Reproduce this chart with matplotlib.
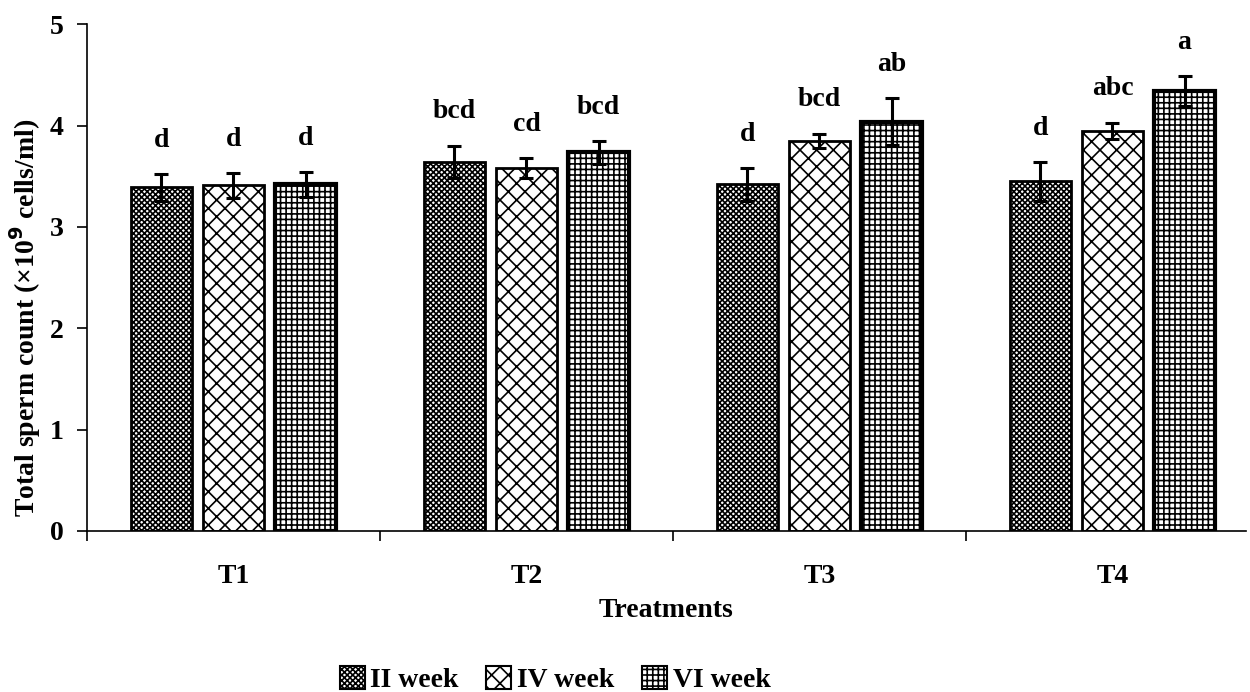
import matplotlib.pyplot as plt
import numpy as np
from matplotlib.patches import Patch

plt.rcParams['font.family'] = ['Liberation Serif', 'DejaVu Serif']
plt.rcParams['font.weight'] = 'bold'
plt.rcParams['hatch.linewidth'] = 1.2

treatments = ['T1', 'T2', 'T3', 'T4']
weeks = ['II week', 'IV week', 'VI week']
week2 = [3.39, 3.64, 3.42, 3.45]
week4 = [3.41, 3.58, 3.85, 3.95]
week6 = [3.42, 3.735, 4.04, 4.34]
err2 = [0.13, 0.16, 0.16, 0.19]
err4 = [0.12, 0.10, 0.07, 0.08]
err6 = [0.12, 0.11, 0.23, 0.145]
letters2 = ['d', 'bcd', 'd', 'd']
letters4 = ['d', 'cd', 'bcd', 'abc']
letters6 = ['d', 'bcd', 'ab', 'a']

series = [week2, week4, week6]
errs = [err2, err4, err6]
letters = [letters2, letters4, letters6]
hatches = ['xxxxxx', 'xx', '+++']
edge_w = [2.0, 2.0, 3.0]

fig = plt.figure(figsize=(12.5, 6.92), dpi=100)
ax = fig.add_axes([0.0696, 0.2327, 0.927, 0.7323])

x = np.arange(len(treatments))
width = 0.208
step = 0.246
for i in range(3):
    pos = x + (i - 1) * step
    ax.bar(pos, series[i], width, color='white', edgecolor='black',
           hatch=hatches[i], linewidth=edge_w[i], zorder=2)
    ax.errorbar(pos, series[i], yerr=errs[i], fmt='none', ecolor='black',
                elinewidth=2.2, capsize=5, capthick=2.2, zorder=3)
    for p, v, e, t in zip(pos, series[i], errs[i], letters[i]):
        ax.text(p, v + e + 0.27, t, ha='center', va='baseline',
                fontsize=20, fontweight='bold')

ax.set_xlim(-0.5, 3.455)
ax.set_ylim(0, 5)
ax.set_yticks(range(6))
ax.set_yticklabels([str(v) for v in range(6)], fontsize=20, fontweight='bold')
ax.set_xticks(x)
ax.set_xticklabels(treatments, fontsize=20, fontweight='bold')
ax.set_xticks(np.arange(-0.5, 3.0, 1.0), minor=True)
ax.tick_params(axis='x', which='major', length=0, pad=24)
ax.tick_params(axis='x', which='minor', length=7, width=1.2, direction='out')
ax.tick_params(axis='y', length=7, width=1.2, direction='out', pad=10)
for s in ['top', 'right']:
    ax.spines[s].set_visible(False)
for s in ['left', 'bottom']:
    ax.spines[s].set_linewidth(1.2)

ax.set_xlabel('Treatments', fontsize=20, fontweight='bold', labelpad=6)
ax.set_ylabel('Total sperm count (×10$^{\\mathbf{9}}$ cells/ml)', fontsize=20,
              fontweight='bold')
ax.yaxis.set_label_coords(-0.038, 0.42)

handles = [Patch(facecolor='white', edgecolor='black', hatch=hatches[i],
                 linewidth=1.5, label=weeks[i]) for i in range(3)]
fig.legend(handles=handles, loc='center', bbox_to_anchor=(0.444, 0.018),
           ncol=3, frameon=False, handlelength=0.9, handleheight=0.9,
           handletextpad=0.2, columnspacing=1.0,
           prop={'size': 20, 'weight': 'bold'})

fig.savefig('out.png', dpi=100)
